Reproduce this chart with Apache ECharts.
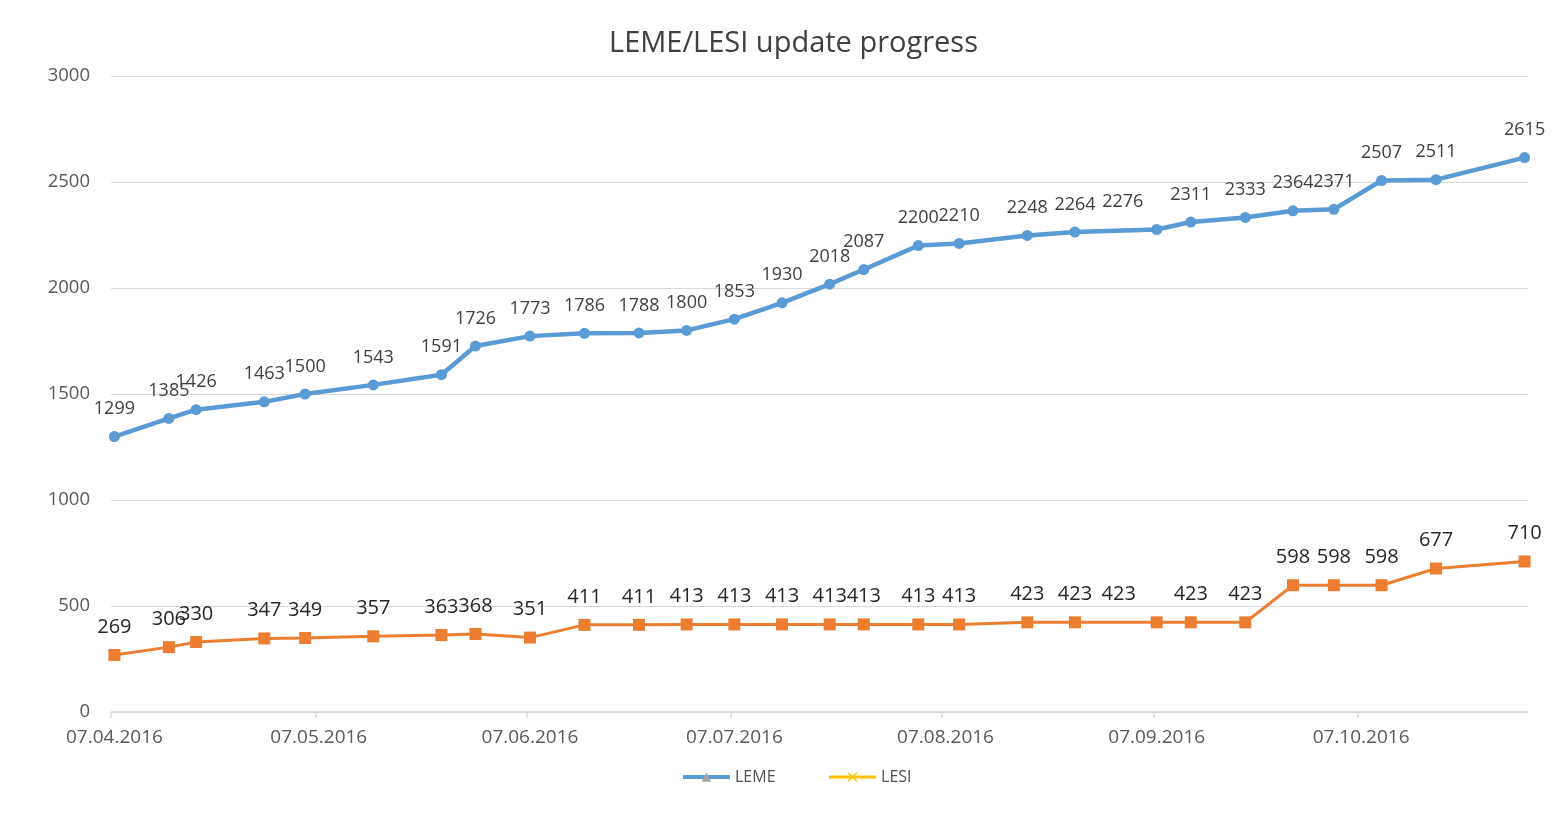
<!DOCTYPE html>
<html>
<head>
<meta charset="utf-8">
<script src="https://cdn.jsdelivr.net/npm/echarts@6/dist/echarts.min.js"></script>
<style>
html,body{margin:0;padding:0;background:#fff;}
#chart{width:1565px;height:823px;}
</style>
</head>
<body>
<div id="chart"></div>
<script>
const title = 'LEME/LESI update progress';
const dates = ['2016-04-07','2016-04-15','2016-04-19','2016-04-29','2016-05-05','2016-05-15','2016-05-25','2016-05-30',
  '2016-06-07','2016-06-15','2016-06-23','2016-06-30','2016-07-07','2016-07-14','2016-07-21','2016-07-26',
  '2016-08-03','2016-08-09','2016-08-19','2016-08-26','2016-09-07','2016-09-12','2016-09-20','2016-09-27',
  '2016-10-03','2016-10-10','2016-10-18','2016-10-31'];
const lemeValues = [1299,1385,1426,1463,1500,1543,1591,1726,1773,1786,1788,1800,1853,1930,2018,2087,
  2200,2210,2248,2264,2276,2311,2333,2364,2371,2507,2511,2615];
const lesiValues = [269,306,330,347,349,357,363,368,351,411,411,413,413,413,413,413,
  413,413,423,423,423,423,423,598,598,598,677,710];
const tickDates = ['2016-04-07','2016-05-07','2016-06-07','2016-07-07','2016-08-07','2016-09-07','2016-10-07'];
const axisStart = '2016-04-07';
const axisEnd = '2016-11-01';
const yTicks = [0,500,1000,1500,2000,2500,3000];

function ts(s, hour) {
  const p = s.split('-').map(Number);
  return new Date(p[0], p[1]-1, p[2], hour || 0).getTime();
}
function fmt(v) {
  const d = new Date(v);
  const pad = n => (n < 10 ? '0' : '') + n;
  return pad(d.getDate()) + '.' + pad(d.getMonth()+1) + '.' + d.getFullYear();
}
// in the original the label of the 07.09 point was pushed left
const shiftedLabel = 20;
// Excel date axis puts each point (and each date label) at the middle of its day
const lemeData = dates.map((d,i) => ({value: [ts(d,12), lemeValues[i]], symbol: 'circle'}));
const lesiData = dates.map((d,i) => ({value: [ts(d,12), lesiValues[i]], symbol: 'rect'}));
const tickTs = tickDates.map(d => ts(d));
const labelTs = tickDates.map(d => ts(d,12));
const XICON = 'path://M0,1L1,0L5,4L9,0L10,1L6,5L10,9L9,10L5,6L1,10L0,9L4,5Z';

const FONT = '"Open Sans", "Noto Sans", sans-serif';
const chart = echarts.init(document.getElementById('chart'));
chart.setOption({
  backgroundColor: '#ffffff',
  animation: false,
  title: {
    text: title, left: 604, top: 24,
    textStyle: {fontFamily: FONT, fontSize: 29, fontWeight: 'normal', color: '#404040'}
  },
  grid: {left: 111, right: 37, top: 76, bottom: 111, containLabel: false},
  legend: {
    bottom: 33, left: 676, itemWidth: 47, itemHeight: 12, itemGap: 52,
    textStyle: {fontFamily: FONT, fontSize: 16, color: '#505050'},
    data: [
      {name: 'LEME', itemStyle: {color: '#A5A5A5'}, lineStyle: {color: '#5B9BD5', width: 4}},
      {name: 'LESI', itemStyle: {color: '#FFC000'}, lineStyle: {color: '#FFC000', width: 3}}
    ]
  },
  xAxis: {
    type: 'value', min: ts(axisStart), max: ts(axisEnd),
    axisLine: {lineStyle: {color: '#d9d9d9', width: 1.5}},
    axisTick: {show: true, customValues: tickTs, length: 6, lineStyle: {color: '#d9d9d9', width: 1.5}},
    axisLabel: {customValues: labelTs, formatter: v => fmt(v), margin: 16,
      fontFamily: FONT, fontSize: 19, color: '#595959', hideOverlap: false},
    splitLine: {show: false}
  },
  yAxis: {
    type: 'value', min: yTicks[0], max: yTicks[yTicks.length-1], interval: 500,
    axisLine: {show: false}, axisTick: {show: false},
    axisLabel: {margin: 21, fontFamily: FONT, fontSize: 18.5, color: '#595959', formatter: v => String(v)},
    splitLine: {lineStyle: {color: '#d9d9d9', width: 1.2}}
  },
  series: [
    {
      name: 'LEME', type: 'line', data: lemeData,
      symbol: 'triangle', symbolSize: 11,
      lineStyle: {color: '#5B9BD5', width: 4.5},
      itemStyle: {color: '#5B9BD5'},
      label: {show: true, position: 'top', distance: 13, fontFamily: FONT, fontSize: 18, color: '#404040',
        formatter: p => p.value[1]},
      labelLayout: p => (p.dataIndex === shiftedLabel ? {dx: -34} : {}),
      z: 3
    },
    {
      name: 'LESI', type: 'line', data: lesiData,
      symbol: XICON, symbolSize: 12,
      lineStyle: {color: '#ED7D31', width: 3},
      itemStyle: {color: '#ED7D31'},
      label: {show: true, position: 'top', distance: 12, fontFamily: FONT, fontSize: 20, color: '#262626',
        formatter: p => p.value[1]},
      labelLayout: p => (p.dataIndex === shiftedLabel ? {dx: -38} : {}),
      z: 2
    }
  ]
});
</script>
</body>
</html>
